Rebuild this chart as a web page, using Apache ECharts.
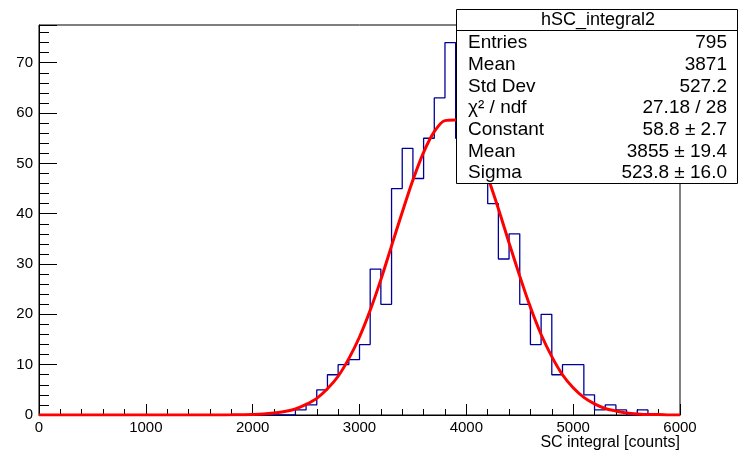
<!DOCTYPE html>
<html>
<head>
<meta charset="utf-8">
<title>hSC_integral2</title>
<script src="https://cdn.jsdelivr.net/npm/echarts@6/dist/echarts.min.js"></script>
<style>
  html, body { margin: 0; padding: 0; background: #fff; }
  #main { width: 738px; height: 453px; }
</style>
</head>
<body>
<div id="main"></div>
<script>
// histogram bins: 60 bins of 100 counts, lower edges 0 .. 5900
var binWidth = 100;
var counts = [
    0, 0, 0, 0, 0, 0, 0, 0, 0, 0,
    0, 0, 0, 0, 0, 0, 0, 0, 0, 0,
    0, 0, 0, 0, 1, 2, 5, 8, 10, 11,
    14, 29, 22, 45, 53, 47, 55, 63, 74, 55,
    52, 47, 42, 31, 36, 22, 14, 20, 8, 10,
    10, 4, 1, 2, 1, 0, 1, 0, 0, 0
];

// gaussian fit curve read every 100 counts, 0 .. 6000
var fitStep = 100;
var fitValues = [
    0, 0, 0, 0, 0, 0, 0, 0, 0, 0,
    0, 0, 0, 0, 0, 0, 0.01, 0.02, 0.03, 0.06,
    0.1, 0.2, 0.4, 0.7, 1.2, 2.1, 3.3, 5.2, 7.7, 11.2,
    15.5, 20.8, 26.9, 33.6, 40.3, 46.7, 52.2, 56.3, 58.5, 58.6,
    56.6, 52.7, 47.3, 41.0, 34.2, 27.6, 21.4, 16.0, 11.6, 8.0,
    5.4, 3.5, 2.2, 1.3, 0.8, 0.4, 0.2, 0.1, 0.1, 0,
    0
];

// stats box
var statTitle = 'hSC_integral2';
var statNames = ['Entries', 'Mean', 'Std Dev', 'χ² / ndf', 'Constant', 'Mean', 'Sigma'];
var statValues = ['795', '3871', '527.2', '27.18 / 28', '58.8 ± 2.7', '3855 ± 19.4', '523.8 ± 16.0'];

var xTitle = 'SC integral [counts]';

var FONT = '"Liberation Sans", Arial, Helvetica, sans-serif';

var histPoints = [];
for (var i = 0; i < counts.length; i++) {
    histPoints.push([i * binWidth, counts[i]]);
}
histPoints.push([counts.length * binWidth, counts[counts.length - 1]]);

var fitPoints = [];
for (var j = 0; j < fitValues.length; j++) {
    fitPoints.push([j * fitStep, fitValues[j]]);
}

// stats box graphic
var boxL = 456, boxT = 9, boxR = 737, boxB = 183;
var statGraphic = [{
    type: 'rect',
    z: 100,
    shape: { x: boxL + 0.5, y: boxT + 0.5, width: boxR - boxL, height: boxB - boxT },
    style: { fill: '#fff', stroke: '#000', lineWidth: 1 }
}, {
    type: 'line',
    z: 101,
    shape: { x1: boxL, y1: 30.5, x2: boxR, y2: 30.5 },
    style: { stroke: '#000', lineWidth: 1 }
}, {
    type: 'text',
    z: 101,
    x: 598, y: 20,
    style: { text: statTitle, font: '18px ' + FONT, fill: '#000', align: 'center', verticalAlign: 'middle' }
}];
for (var k = 0; k < statNames.length; k++) {
    var rowY = 43 + k * 21.7;
    statGraphic.push({
        type: 'text', z: 101, x: 468, y: rowY,
        style: { text: statNames[k], font: '19px ' + FONT, fill: '#000', align: 'left', verticalAlign: 'middle' }
    });
    statGraphic.push({
        type: 'text', z: 101, x: 727, y: rowY,
        style: { text: statValues[k], font: '19px ' + FONT, fill: '#000', align: 'right', verticalAlign: 'middle' }
    });
}

var gridBox = { left: 39, right: 58, top: 25, bottom: 38 };

var myChart = echarts.init(document.getElementById('main'));

var option = {
    animation: false,
    backgroundColor: '#fff',
    grid: [
        { left: gridBox.left, right: gridBox.right, top: gridBox.top, bottom: gridBox.bottom,
          show: true, borderColor: '#000', borderWidth: 1, backgroundColor: 'transparent' },
        { left: gridBox.left, right: gridBox.right, top: gridBox.top, bottom: gridBox.bottom, show: false }
    ],
    xAxis: [{
        gridIndex: 0,
        type: 'value',
        min: 0, max: 6000, interval: 1000,
        name: xTitle,
        nameLocation: 'end',
        nameGap: 0,
        nameTextStyle: { fontFamily: FONT, fontSize: 16, color: '#000', align: 'right', verticalAlign: 'top', padding: [20, 0, 0, 0] },
        axisLine: { lineStyle: { color: '#000', width: 1 } },
        axisTick: { inside: true, length: 11, lineStyle: { color: '#000' } },
        minorTick: { show: true, splitNumber: 5, length: 6, lineStyle: { color: '#000' } },
        axisLabel: {
            fontFamily: FONT, fontSize: 15, color: '#000', margin: 5,
            formatter: function (v) { return String(v); }
        },
        splitLine: { show: false }
    }, {
        gridIndex: 1,
        type: 'value',
        min: 0, max: 6000,
        show: false
    }],
    yAxis: [{
        gridIndex: 0,
        type: 'value',
        min: 0, max: 77.5, interval: 10,
        axisLine: { show: true, lineStyle: { color: '#000', width: 1 } },
        axisTick: { show: true, inside: true, length: 18, lineStyle: { color: '#000' } },
        axisLabel: {
            fontFamily: FONT, fontSize: 15, color: '#000', margin: 6,
            formatter: function (v) { return v % 10 === 0 ? String(v) : ''; }
        },
        splitLine: { show: false }
    }, {
        // minor ticks every 2
        gridIndex: 1,
        type: 'value',
        position: 'left',
        min: 0, max: 77.5, interval: 2,
        axisLine: { show: false },
        axisTick: { show: true, inside: true, length: 10, lineStyle: { color: '#000' } },
        axisLabel: { show: false },
        splitLine: { show: false }
    }],
    series: [{
        name: 'hSC_integral2',
        type: 'line',
        xAxisIndex: 0, yAxisIndex: 0,
        step: 'end',
        data: histPoints,
        showSymbol: false,
        symbol: 'none',
        lineStyle: { color: '#000099', width: 1.3 },
        z: 3
    }, {
        name: 'gaus',
        type: 'line',
        xAxisIndex: 0, yAxisIndex: 0,
        data: fitPoints,
        smooth: 0.3,
        showSymbol: false,
        symbol: 'none',
        lineStyle: { color: '#ff0000', width: 3 },
        z: 4
    }],
    graphic: statGraphic
};

myChart.setOption(option);
</script>
</body>
</html>
